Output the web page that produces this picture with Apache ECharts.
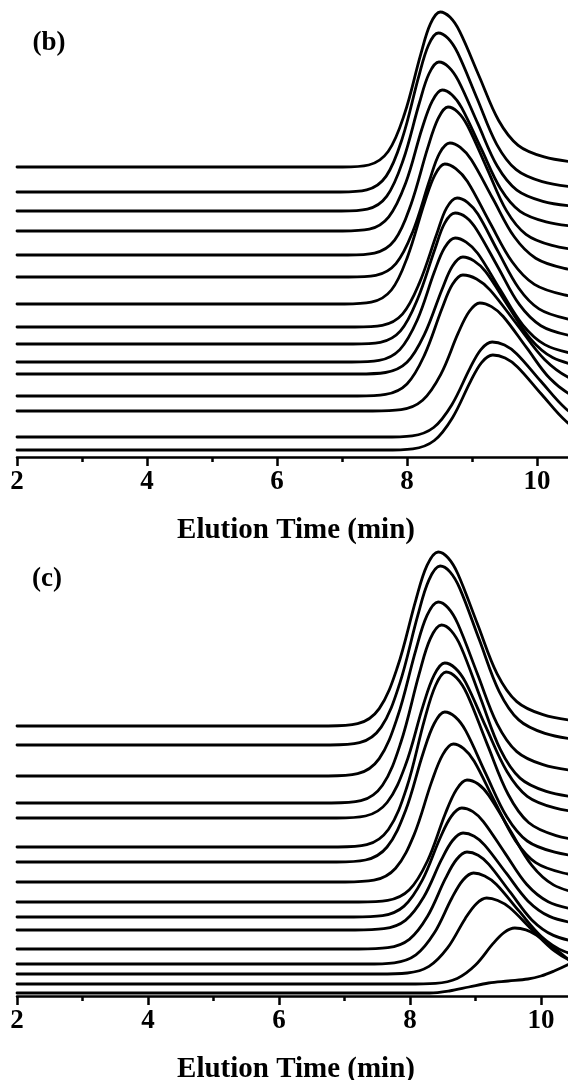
<!DOCTYPE html>
<html>
<head>
<meta charset="utf-8">
<script src="https://cdn.jsdelivr.net/npm/echarts@6/dist/echarts.min.js"></script>
<style>
  html, body { margin: 0; padding: 0; background: #fff; }
  #chart { width: 568px; height: 1080px; }
</style>
</head>
<body>
<div id="chart"></div>
<script>
// GPC traces, stacked with a vertical offset (arbitrary intensity units).
// Each trace is a list of [elution time (min), offset intensity] points.

const xTicks = [2, 4, 6, 8, 10];
const axisTitle = 'Elution Time (min)';
const panelLabels = ['(b)', '(c)'];

// Panel (b): 15 traces, top to bottom
const tracesB = [
  [[2,290],[7.01,290],[7.41,292],[7.71,305.5],[7.96,342.7],[8.21,402.4],[8.36,433.1],[8.51,445],[8.66,439.9],[8.81,425.6],[9.11,380.8],[9.41,336.5],[9.71,311.7],[10.11,300.1],[10.61,294.7],[11.31,291.6]],
  [[2,265],[6.98,265],[7.38,267.1],[7.68,280.9],[7.93,319.1],[8.18,380.3],[8.33,411.8],[8.48,424],[8.63,418.8],[8.78,404.1],[9.08,358.2],[9.38,312.7],[9.68,287.3],[10.08,275.3],[10.58,269.8],[11.28,266.6]],
  [[2,246],[6.99,246],[7.39,247.9],[7.69,260.9],[7.94,296.7],[8.19,354],[8.34,383.5],[8.49,395],[8.64,390.1],[8.79,376.4],[9.09,333.3],[9.39,290.7],[9.69,266.9],[10.09,255.7],[10.59,250.5],[11.29,247.5]],
  [[2,226],[7.01,226],[7.42,227.8],[7.72,240.1],[7.98,273.9],[8.23,328.2],[8.39,356.1],[8.54,367],[8.69,362.3],[8.84,349.4],[9.14,308.6],[9.44,268.3],[9.74,245.7],[10.14,235.2],[10.64,230.2],[11.34,227.4]],
  [[2,202],[7.09,202],[7.50,203.9],[7.81,216.8],[8.06,252.3],[8.32,309.3],[8.48,338.6],[8.63,350],[8.78,345.1],[8.93,331.5],[9.23,288.7],[9.53,246.4],[9.83,222.7],[10.23,211.6],[10.73,206.4],[11.43,203.5]],
  [[2,180],[7.10,180],[7.52,181.7],[7.83,193.4],[8.09,225.6],[8.35,277.2],[8.50,303.7],[8.66,314],[8.82,309.6],[8.99,297.3],[9.32,258.5],[9.65,220.2],[9.98,198.8],[10.42,188.7],[10.97,184],[11.74,181.3]],
  [[2,153],[7.04,153],[7.45,154.8],[7.76,167],[8.01,200.6],[8.27,254.5],[8.43,282.2],[8.58,293],[8.75,288.4],[8.93,275.5],[9.27,235],[9.62,195],[9.96,172.6],[10.42,162.1],[11.00,157.2],[11.80,154.4]],
  [[2,130],[7.20,130],[7.62,131.7],[7.93,142.9],[8.19,173.9],[8.46,223.5],[8.61,249.1],[8.77,259],[8.93,254.7],[9.09,242.9],[9.40,205.6],[9.72,168.7],[10.03,148.1],[10.45,138.4],[10.98,133.9],[11.71,131.3]],
  [[2,113],[7.17,113],[7.59,114.7],[7.90,126.1],[8.16,157.5],[8.43,208],[8.58,233.9],[8.74,244],[8.91,239.7],[9.07,227.6],[9.40,189.8],[9.73,152.3],[10.06,131.3],[10.50,121.5],[11.05,116.9],[11.82,114.3]],
  [[2,95],[7.15,95],[7.57,96.6],[7.89,107.4],[8.16,137.2],[8.42,184.9],[8.58,209.5],[8.74,219],[8.91,214.9],[9.09,203.5],[9.43,167.7],[9.78,132.2],[10.12,112.4],[10.58,103.1],[11.16,98.7],[11.96,96.2]],
  [[2,83],[7.24,83],[7.67,84.5],[8.00,94.7],[8.27,122.8],[8.54,167.8],[8.70,191],[8.86,200],[9.03,196.1],[9.21,185.4],[9.55,151.6],[9.90,118.1],[10.24,99.4],[10.70,90.6],[11.28,86.5],[12.08,84.2]],
  [[2,61],[7.24,61],[7.67,62.6],[8.00,73.1],[8.27,102.1],[8.54,148.7],[8.70,172.7],[8.86,182],[9.07,178],[9.28,166.9],[9.70,131.9],[10.12,97.3],[10.54,77.9],[11.10,68.9],[11.80,64.6],[12.78,62.2]],
  [[2,46],[7.47,46],[7.91,47.4],[8.24,56.8],[8.52,82.7],[8.79,124.3],[8.96,145.7],[9.12,154],[9.30,150.4],[9.48,140.5],[9.84,109.3],[10.20,78.4],[10.56,61.1],[11.04,53],[11.64,49.2],[12.48,47.1]],
  [[2,20],[7.63,20],[8.08,21.2],[8.41,29.5],[8.69,52.3],[8.97,88.9],[9.14,107.7],[9.31,115],[9.50,111.9],[9.69,103.1],[10.06,75.7],[10.44,48.5],[10.81,33.3],[11.31,26.2],[11.94,22.9],[12.81,21]],
  [[2,7],[7.64,7],[8.09,8.2],[8.42,16.5],[8.70,39.3],[8.98,75.9],[9.15,94.7],[9.32,102],[9.51,98.9],[9.70,90.1],[10.07,62.7],[10.45,35.5],[10.82,20.3],[11.32,13.2],[11.95,9.9],[12.82,8]]
];

// Panel (c): 16 traces, top to bottom
const tracesC = [
  [[2,270],[6.75,270],[7.20,272.3],[7.53,287.4],[7.81,329.2],[8.09,396.2],[8.26,430.6],[8.43,444],[8.58,438.3],[8.73,422.3],[9.03,372],[9.33,322.2],[9.63,294.4],[10.03,281.3],[10.53,275.2],[11.23,271.7]],
  [[2,251],[6.78,251],[7.23,253.3],[7.56,268.9],[7.84,311.9],[8.12,380.8],[8.29,416.2],[8.46,430],[8.61,424.1],[8.76,407.6],[9.06,355.9],[9.36,304.7],[9.66,276.1],[10.06,262.6],[10.56,256.4],[11.26,252.8]],
  [[2,220],[6.75,220],[7.20,222.3],[7.53,237.4],[7.81,279.2],[8.09,346.2],[8.26,380.6],[8.43,394],[8.58,388.3],[8.73,372.3],[9.03,322],[9.33,272.2],[9.63,244.4],[10.03,231.3],[10.53,225.2],[11.23,221.7]],
  [[2,193],[6.80,193],[7.25,195.3],[7.58,210.8],[7.86,253.5],[8.14,322.1],[8.31,357.3],[8.48,371],[8.63,365.1],[8.78,348.8],[9.08,297.3],[9.38,246.4],[9.68,217.9],[10.08,204.6],[10.58,198.3],[11.28,194.8]],
  [[2,178],[6.88,178],[7.32,180],[7.65,193.5],[7.93,230.7],[8.20,290.4],[8.37,321.1],[8.53,333],[8.69,327.9],[8.85,313.6],[9.16,268.8],[9.48,224.5],[9.79,199.7],[10.21,188.1],[10.74,182.7],[11.47,179.6]],
  [[2,149],[6.90,149],[7.34,151.3],[7.67,166.5],[7.95,208.5],[8.22,275.9],[8.39,310.5],[8.55,324],[8.71,318.2],[8.87,302.1],[9.18,251.6],[9.50,201.5],[9.81,173.5],[10.23,160.4],[10.76,154.3],[11.49,150.8]],
  [[2,134],[6.88,134],[7.32,136],[7.65,149],[7.93,185],[8.20,242.8],[8.37,272.5],[8.53,284],[8.69,279.1],[8.85,265.3],[9.16,221.9],[9.48,179],[9.79,155],[10.21,143.8],[10.74,138.5],[11.47,135.5]],
  [[2,114],[7.01,114],[7.45,115.8],[7.78,127.8],[8.06,160.9],[8.33,214.1],[8.50,241.4],[8.66,252],[8.82,247.4],[8.98,234.8],[9.29,194.9],[9.61,155.4],[9.92,133.3],[10.34,123],[10.87,118.1],[11.60,115.4]],
  [[2,94],[7.22,94],[7.66,95.6],[7.99,106.2],[8.27,135.5],[8.54,182.5],[8.71,206.6],[8.87,216],[9.04,212],[9.20,200.8],[9.53,165.5],[9.86,130.6],[10.19,111.1],[10.63,101.9],[11.18,97.7],[11.95,95.2]],
  [[2,79],[7.14,79],[7.58,80.4],[7.91,89.9],[8.19,116.1],[8.46,158],[8.63,179.6],[8.79,188],[8.96,184.4],[9.12,174.4],[9.45,142.9],[9.78,111.7],[10.11,94.3],[10.55,86.1],[11.10,82.3],[11.87,80.1]],
  [[2,66],[7.16,66],[7.60,67.3],[7.93,75.7],[8.21,99],[8.48,136.3],[8.65,155.5],[8.81,163],[8.98,159.8],[9.14,150.9],[9.47,122.8],[9.80,95.1],[10.13,79.6],[10.57,72.3],[11.12,68.9],[11.89,67]],
  [[2,47],[7.22,47],[7.66,48.3],[7.99,56.7],[8.27,80],[8.54,117.3],[8.71,136.5],[8.87,144],[9.04,140.8],[9.20,131.9],[9.53,103.8],[9.86,76.1],[10.19,60.6],[10.63,53.3],[11.18,49.9],[11.95,48]],
  [[2,32],[7.32,32],[7.76,33.2],[8.09,41.1],[8.37,62.9],[8.64,98],[8.81,116],[8.97,123],[9.14,120],[9.32,111.6],[9.66,85.3],[10.01,59.3],[10.35,44.7],[10.81,37.9],[11.39,34.7],[12.19,32.9]],
  [[2,22],[7.52,22],[7.96,23],[8.29,29.6],[8.57,47.8],[8.84,77.1],[9.01,92.1],[9.17,98],[9.34,95.5],[9.52,88.5],[9.86,66.5],[10.21,44.8],[10.55,32.6],[11.01,26.9],[11.59,24.3],[12.39,22.8]],
  [[2,12],[7.95,12],[8.39,12.7],[8.72,17.6],[9.00,31],[9.27,52.6],[9.44,63.7],[9.60,68],[9.77,66.2],[9.93,61],[10.26,44.8],[10.59,28.8],[10.92,19.8],[11.36,15.6],[11.91,13.7],[12.68,12.6]],
  [[2,3],[8.3,3],[8.6,5],[8.9,9],[9.2,13],[9.5,15],[9.8,17],[10.0,20],[10.2,25],[10.4,31],[10.6,38],[10.8,42],[11.0,40],[11.5,25],[12,12]]
];

const FONT = '"Liberation Serif", "Times New Roman", serif';
const INK = '#000';

function xAxisFor(gridIndex) {
  return {
    type: 'value', gridIndex: gridIndex,
    min: 2, max: 12, interval: 2,
    axisLine: { show: true, onZero: false, lineStyle: { color: INK, width: 2.5 } },
    axisTick: { show: true, length: 9, lineStyle: { color: INK, width: 2.5 } },
    minorTick: { show: true, splitNumber: 2, length: 5, lineStyle: { color: INK, width: 2.5 } },
    splitLine: { show: false }, minorSplitLine: { show: false },
    axisLabel: {
      margin: 12, color: INK, fontFamily: FONT, fontWeight: 'bold', fontSize: 27,
      formatter: v => (xTicks.indexOf(v) >= 0 ? String(v) : '')
    }
  };
}

function yAxisFor(gridIndex, max) {
  return { type: 'value', gridIndex: gridIndex, min: 0, max: max, show: false };
}

function toSeries(traces, idx) {
  return traces.map(tr => ({
    type: 'line', xAxisIndex: idx, yAxisIndex: idx,
    data: tr, showSymbol: false, symbol: 'none', smooth: 0.35,
    clip: true, silent: true,
    lineStyle: { color: INK, width: 2.8, join: 'round', cap: 'round' }
  }));
}

function caption(text, x, y, size) {
  return { type: 'text', x: x, y: y,
    style: { text: text, fill: INK, font: 'bold ' + size + 'px ' + FONT, textAlign: 'center', textVerticalAlign: 'middle' } };
}

const chart = echarts.init(document.getElementById('chart'), null, { renderer: 'canvas' });
chart.setOption({
  animation: false,
  backgroundColor: '#fff',
  grid: [
    { left: 17, right: -99, top: 0, height: 457, containLabel: false, outerBoundsMode: 'none' },
    { left: 17, right: -104, top: 536, height: 460, containLabel: false, outerBoundsMode: 'none' }
  ],
  xAxis: [xAxisFor(0), xAxisFor(1)],
  yAxis: [yAxisFor(0, 457), yAxisFor(1, 460)],
  series: toSeries(tracesB, 0).concat(toSeries(tracesC, 1)),
  graphic: [
    caption(panelLabels[0], 49, 43, 27),
    caption(panelLabels[1], 47, 579, 27),
    caption(axisTitle, 296, 531, 29),
    caption(axisTitle, 296, 1070, 29)
  ]
});
</script>
</body>
</html>
